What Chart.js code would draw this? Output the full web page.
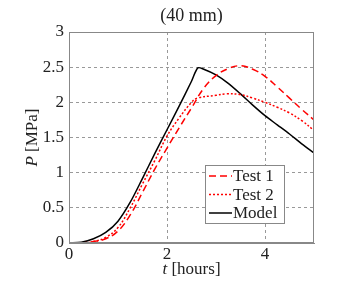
<!DOCTYPE html>
<html lang="en">
<head>
  <meta charset="UTF-8">
  <title>(40 mm)</title>
  <script src="https://cdn.jsdelivr.net/npm/chart.js"></script>
  <style>
    html, body { margin: 0; padding: 0; background: #fff; }
  </style>
</head>
<body>
  <canvas id="chart" width="349" height="291"></canvas>
  <script>
    // data
    const tModel = [0, 0.25, 0.5, 0.75, 1, 1.25, 1.5, 1.75, 2, 2.25, 2.5, 2.63, 2.75, 3, 3.25, 3.5, 3.75, 4, 4.25, 4.5, 4.75, 5];
    const pModel = [0, 0.01, 0.06, 0.15, 0.31, 0.58, 0.92, 1.27, 1.61, 1.95, 2.3, 2.49, 2.47, 2.39, 2.27, 2.12, 1.96, 1.81, 1.68, 1.55, 1.41, 1.28];

    const tTest1 = [0, 0.25, 0.5, 0.75, 1, 1.25, 1.5, 1.75, 2, 2.25, 2.5, 2.75, 3, 3.25, 3.5, 3.75, 4, 4.25, 4.5, 4.75, 5];
    const pTest1 = [0, 0, 0.02, 0.06, 0.17, 0.4, 0.72, 1.05, 1.35, 1.64, 1.92, 2.2, 2.38, 2.48, 2.52, 2.47, 2.37, 2.22, 2.06, 1.9, 1.75];

    const tTest2 = [0, 0.25, 0.5, 0.75, 1, 1.25, 1.5, 1.75, 2, 2.25, 2.5, 2.62, 3, 3.2, 3.5, 3.75, 4, 4.25, 4.5, 4.75, 5];
    const pTest2 = [0, 0, 0.02, 0.08, 0.22, 0.5, 0.84, 1.17, 1.52, 1.78, 2.0, 2.06, 2.1, 2.12, 2.11, 2.06, 2.0, 1.93, 1.85, 1.74, 1.6];

    const xTicks = [0, 2, 4];
    const yTicks = [0, 0.5, 1, 1.5, 2, 2.5, 3];

    const serif = "'Liberation Serif', 'DejaVu Serif', serif";

    const toPoints = (xs, ys) => xs.map((x, i) => ({ x: x, y: ys[i] }));

    // title, axis titles, inside legend and frame
    const decorations = {
      id: 'decorations',
      afterDraw(chart) {
        const ctx = chart.ctx;
        const a = chart.chartArea;
        ctx.save();

        // frame
        ctx.strokeStyle = '#888';
        ctx.lineWidth = 1;
        ctx.setLineDash([]);
        ctx.strokeRect(a.left + 0.5, a.top + 0.5, a.right - a.left - 1, a.bottom - a.top - 1);

        ctx.fillStyle = '#222';
        ctx.textBaseline = 'middle';

        // title
        ctx.font = '18px ' + serif;
        ctx.textAlign = 'center';
        ctx.fillText('(40 mm)', (a.left + a.right) / 2, 16);

        // x title: t [hours]
        const xc = (a.left + a.right) / 2;
        ctx.font = 'italic 17px ' + serif;
        const w1 = ctx.measureText('t ').width;
        ctx.font = '17px ' + serif;
        const w2 = ctx.measureText('[hours]').width;
        const x0 = xc - (w1 + w2) / 2;
        ctx.textAlign = 'left';
        ctx.font = 'italic 17px ' + serif;
        ctx.fillText('t ', x0, 270);
        ctx.font = '17px ' + serif;
        ctx.fillText('[hours]', x0 + w1, 270);

        // y title: P [MPa]
        ctx.translate(33, (a.top + a.bottom) / 2);
        ctx.rotate(-Math.PI / 2);
        ctx.font = 'italic 17px ' + serif;
        const v1 = ctx.measureText('P ').width;
        ctx.font = '17px ' + serif;
        const v2 = ctx.measureText('[MPa]').width;
        const y0 = -(v1 + v2) / 2;
        ctx.font = 'italic 17px ' + serif;
        ctx.fillText('P ', y0, 0);
        ctx.font = '17px ' + serif;
        ctx.fillText('[MPa]', y0 + v1, 0);
        ctx.setTransform(1, 0, 0, 1, 0, 0);

        // legend inside the plot
        const bx = 205, by = 165, bw = 79, bh = 58;
        ctx.fillStyle = '#fff';
        ctx.fillRect(bx, by, bw, bh);
        ctx.strokeStyle = '#888';
        ctx.lineWidth = 1;
        ctx.strokeRect(bx + 0.5, by + 0.5, bw, bh);
        chart.data.datasets.forEach((ds, i) => {
          const ly = by + 11 + i * 18.5;
          ctx.strokeStyle = ds.borderColor;
          ctx.lineWidth = ds.borderWidth;
          ctx.setLineDash(ds.borderDash || []);
          ctx.beginPath();
          ctx.moveTo(bx + 4, ly);
          ctx.lineTo(bx + 27, ly);
          ctx.stroke();
          ctx.setLineDash([]);
          ctx.fillStyle = '#222';
          ctx.font = '17px ' + serif;
          ctx.textAlign = 'left';
          ctx.fillText(ds.label, bx + 28, ly + 1);
        });

        ctx.restore();
      }
    };

    new Chart(document.getElementById('chart').getContext('2d'), {
      type: 'line',
      data: {
        datasets: [
          {
            label: 'Test 1',
            data: toPoints(tTest1, pTest1),
            borderColor: '#ff0000',
            borderWidth: 1.5,
            borderDash: [7, 4],
            pointRadius: 0,
            tension: 0.4,
            fill: false
          },
          {
            label: 'Test 2',
            data: toPoints(tTest2, pTest2),
            borderColor: '#ff0000',
            borderWidth: 1.5,
            borderDash: [2, 2],
            pointRadius: 0,
            tension: 0.4,
            fill: false
          },
          {
            label: 'Model',
            data: toPoints(tModel, pModel),
            borderColor: '#000000',
            borderWidth: 1.5,
            pointRadius: 0,
            tension: 0.3,
            fill: false
          }
        ]
      },
      options: {
        responsive: false,
        animation: false,
        layout: { padding: { left: 0, top: 32, right: 35, bottom: 0 } },
        plugins: {
          legend: { display: false },
          title: { display: false },
          tooltip: { enabled: false }
        },
        scales: {
          x: {
            type: 'linear',
            min: 0,
            max: 5,
            afterBuildTicks: axis => { axis.ticks = xTicks.map(v => ({ value: v })); },
            afterFit: axis => { axis.height = 48; },
            grid: { color: '#999', drawTicks: false },
            border: { display: true, color: '#888', dash: [3, 3] },
            ticks: { color: '#222', font: { family: serif, size: 17 }, padding: 1, callback: v => String(v) }
          },
          y: {
            min: 0,
            max: 3,
            afterBuildTicks: axis => { axis.ticks = yTicks.map(v => ({ value: v })); },
            afterFit: axis => { axis.width = 69; },
            grid: { color: '#999', drawTicks: false },
            border: { display: true, color: '#888', dash: [3, 3] },
            ticks: { color: '#222', font: { family: serif, size: 17 }, padding: 5, callback: v => String(v) }
          }
        }
      },
      plugins: [decorations]
    });
  </script>
</body>
</html>
